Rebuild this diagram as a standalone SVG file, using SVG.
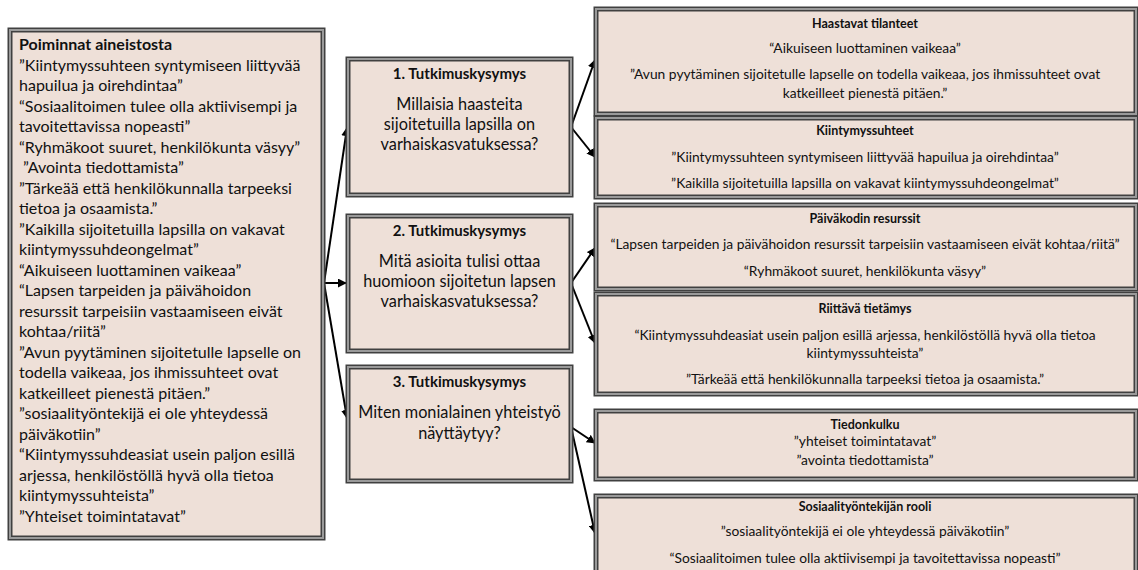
<svg xmlns="http://www.w3.org/2000/svg" width="1138" height="570" viewBox="0 0 1138 570">
<style>
.bx{fill:#EEE0D8;stroke:#404040;stroke-width:5}
.bi{fill:none;stroke:#9a9a9a;stroke-width:2}
text{font-family:Lato,"Open Sans","Liberation Sans",sans-serif;fill:#111}
.l{font-size:16px}
.m{font-size:16.3px;text-anchor:middle}
.mt{font-size:15px;font-weight:bold;text-anchor:middle}
.r{font-size:13.8px;text-anchor:middle}
.rt{font-size:12.5px;font-weight:bold;text-anchor:middle}
.c{fill:none;stroke:#000;stroke-width:2}
</style>
<defs>
<marker id="ah" viewBox="0 0 10 10" refX="9" refY="5" markerWidth="4.5" markerHeight="4.5" orient="auto" markerUnits="strokeWidth">
<path d="M0,0 L10,5 L0,10 z" fill="#000"/>
</marker>
</defs>
<rect width="1138" height="570" fill="#fff"/>
<g id="connectors">
<line class="c" x1="324" y1="283" x2="347" y2="128" marker-end="url(#ah)"/>
<line class="c" x1="324" y1="283" x2="346" y2="283" marker-end="url(#ah)"/>
<line class="c" x1="324" y1="283" x2="347" y2="418" marker-end="url(#ah)"/>
<line class="c" x1="571" y1="127" x2="595" y2="60" marker-end="url(#ah)"/>
<line class="c" x1="571" y1="127" x2="595" y2="157" marker-end="url(#ah)"/>
<line class="c" x1="571" y1="283" x2="595" y2="248" marker-end="url(#ah)"/>
<line class="c" x1="571" y1="283" x2="595" y2="343" marker-end="url(#ah)"/>
<line class="c" x1="571" y1="427" x2="595" y2="443" marker-end="url(#ah)"/>
<line class="c" x1="571" y1="427" x2="595" y2="533" marker-end="url(#ah)"/>
</g>
<g id="poiminnat">
<rect class="bx" x="10" y="30" width="313" height="508"/><rect class="bi" x="10" y="30" width="313" height="508"/>
<text class="l" x="19" y="50" font-weight="bold">Poiminnat aineistosta</text>
<text class="l" x="19" y="70.5">”Kiintymyssuhteen syntymiseen liittyvää</text>
<text class="l" x="19" y="91">hapuilua ja oirehdintaa”</text>
<text class="l" x="19" y="111.5">“Sosiaalitoimen tulee olla aktiivisempi ja</text>
<text class="l" x="19" y="132">tavoitettavissa nopeasti”</text>
<text class="l" x="19" y="152.5">“Ryhmäkoot suuret, henkilökunta väsyy”</text>
<text class="l" x="23" y="173">”Avointa tiedottamista”</text>
<text class="l" x="19" y="193.5">”Tärkeää että henkilökunnalla tarpeeksi</text>
<text class="l" x="19" y="214">tietoa ja osaamista.”</text>
<text class="l" x="19" y="234.5">”Kaikilla sijoitetuilla lapsilla on vakavat</text>
<text class="l" x="19" y="255">kiintymyssuhdeongelmat”</text>
<text class="l" x="19" y="275.5">“Aikuiseen luottaminen vaikeaa”</text>
<text class="l" x="19" y="296">“Lapsen tarpeiden ja päivähoidon</text>
<text class="l" x="19" y="316.5">resurssit tarpeisiin vastaamiseen eivät</text>
<text class="l" x="19" y="337">kohtaa/riitä”</text>
<text class="l" x="19" y="357.5">”Avun pyytäminen sijoitetulle lapselle on</text>
<text class="l" x="19" y="378">todella vaikeaa, jos ihmissuhteet ovat</text>
<text class="l" x="19" y="398.5">katkeilleet  pienestä pitäen.”</text>
<text class="l" x="19" y="419">”sosiaalityöntekijä ei ole yhteydessä</text>
<text class="l" x="19" y="439.5">päiväkotiin”</text>
<text class="l" x="19" y="460">“Kiintymyssuhdeasiat usein paljon esillä</text>
<text class="l" x="19" y="480.5">arjessa, henkilöstöllä hyvä olla tietoa</text>
<text class="l" x="19" y="501">kiintymyssuhteista”</text>
<text class="l" x="19" y="521.5">”Yhteiset toimintatavat”</text>
</g>
<g id="kysymys1">
<rect class="bx" x="348" y="59" width="223" height="136"/><rect class="bi" x="348" y="59" width="223" height="136"/>
<text class="mt" x="459.5" y="79">1. Tutkimuskysymys</text>
<text class="m" x="459.5" y="110">Millaisia haasteita</text>
<text class="m" x="459.5" y="130">sijoitetuilla lapsilla on</text>
<text class="m" x="459.5" y="150">varhaiskasvatuksessa?</text>
</g>
<g id="kysymys2">
<rect class="bx" x="348" y="216" width="223" height="135"/><rect class="bi" x="348" y="216" width="223" height="135"/>
<text class="mt" x="459.5" y="236">2. Tutkimuskysymys</text>
<text class="m" x="459.5" y="267">Mitä asioita tulisi ottaa</text>
<text class="m" x="459.5" y="287">huomioon sijoitetun lapsen</text>
<text class="m" x="459.5" y="307">varhaiskasvatuksessa?</text>
</g>
<g id="kysymys3">
<rect class="bx" x="348" y="367" width="223" height="114"/><rect class="bi" x="348" y="367" width="223" height="114"/>
<text class="mt" x="459.5" y="387">3. Tutkimuskysymys</text>
<text class="m" x="459.5" y="418">Miten monialainen yhteistyö</text>
<text class="m" x="459.5" y="439">näyttäytyy?</text>
</g>
<g id="haastavat">
<rect class="bx" x="596" y="9" width="540" height="105"/><rect class="bi" x="596" y="9" width="540" height="105"/>
<text class="rt" x="865" y="28">Haastavat tilanteet</text>
<text class="r" x="865" y="53">“Aikuiseen luottaminen vaikeaa”</text>
<text class="r" x="865" y="79">”Avun pyytäminen  sijoitetulle lapselle on todella vaikeaa, jos ihmissuhteet ovat</text>
<text class="r" x="865" y="98">katkeilleet pienestä pitäen.”</text>
</g>
<g id="kiintymys">
<rect class="bx" x="596" y="118" width="540" height="79"/><rect class="bi" x="596" y="118" width="540" height="79"/>
<text class="rt" x="865" y="135">Kiintymyssuhteet</text>
<text class="r" x="865" y="162">”Kiintymyssuhteen syntymiseen liittyvää hapuilua ja oirehdintaa”</text>
<text class="r" x="865" y="188">”Kaikilla sijoitetuilla lapsilla on vakavat kiintymyssuhdeongelmat”</text>
</g>
<g id="resurssit">
<rect class="bx" x="596" y="205" width="540" height="84"/><rect class="bi" x="596" y="205" width="540" height="84"/>
<text class="rt" x="865" y="223">Päiväkodin resurssit</text>
<text class="r" x="865" y="249">“Lapsen tarpeiden ja päivähoidon  resurssit tarpeisiin vastaamiseen eivät kohtaa/riitä”</text>
<text class="r" x="865" y="276">“Ryhmäkoot  suuret, henkilökunta  väsyy”</text>
</g>
<g id="tietamys">
<rect class="bx" x="596" y="294" width="540" height="100"/><rect class="bi" x="596" y="294" width="540" height="100"/>
<text class="rt" x="865" y="313">Riittävä tietämys</text>
<text class="r" x="865" y="340">“Kiintymyssuhdeasiat usein paljon esillä arjessa, henkilöstöllä hyvä olla tietoa</text>
<text class="r" x="865" y="358">kiintymyssuhteista”</text>
<text class="r" x="865" y="384">”Tärkeää että henkilökunnalla tarpeeksi tietoa ja osaamista.”</text>
</g>
<g id="tiedonkulku">
<rect class="bx" x="596" y="411" width="540" height="68"/><rect class="bi" x="596" y="411" width="540" height="68"/>
<text class="rt" x="865" y="429">Tiedonkulku</text>
<text class="r" x="865" y="446">”yhteiset toimintatavat”</text>
<text class="r" x="865" y="465">”avointa tiedottamista”</text>
</g>
<g id="sosiaalityontekija">
<rect class="bx" x="596" y="496" width="540" height="84"/><rect class="bi" x="596" y="496" width="540" height="84"/>
<text class="rt" x="865" y="511">Sosiaalityöntekijän rooli</text>
<text class="r" x="865" y="536">”sosiaalityöntekijä ei ole yhteydessä päiväkotiin”</text>
<text class="r" x="865" y="563">“Sosiaalitoimen tulee olla aktiivisempi ja tavoitettavissa nopeasti”</text>
</g>
</svg>
